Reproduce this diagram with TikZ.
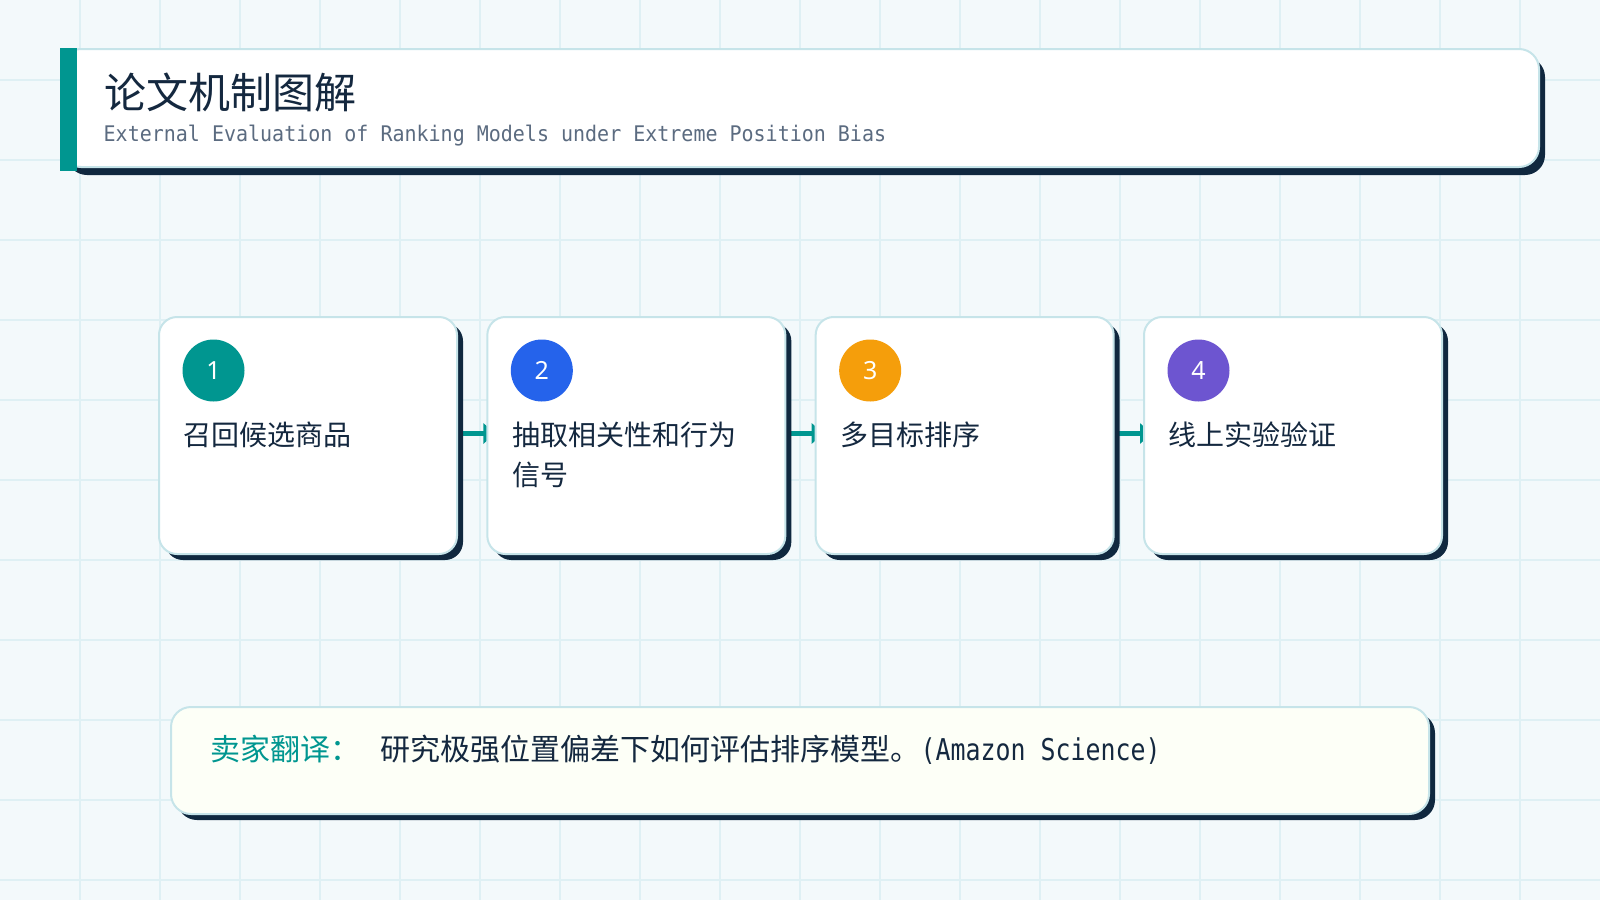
\documentclass[tikz,border=0pt]{standalone}
\usepackage{fontspec}
\usetikzlibrary{arrows.meta,shadows}
\newfontfamily\cjk{Noto Sans CJK SC}
\newfontfamily\monosub[FakeStretch=0.93]{DejaVu Sans Mono}
\newfontfamily\monobot[FakeStretch=0.83]{DejaVu Sans Mono}
\newfontfamily\numfont{Noto Sans}
\definecolor{bgc}{HTML}{F3F9FB}
\definecolor{gridc}{HTML}{DFF0F4}
\definecolor{borderc}{HTML}{C6E4E9}
\definecolor{shadowc}{HTML}{10283F}
\definecolor{tealc}{HTML}{009690}
\definecolor{bluec}{HTML}{2563EB}
\definecolor{orangec}{HTML}{F59E0B}
\definecolor{purplec}{HTML}{6D55D0}
\definecolor{navy}{HTML}{14283F}
\definecolor{subc}{HTML}{5B6B80}
\definecolor{creamc}{HTML}{FDFFF7}
\pgfdeclarelayer{background}
\pgfdeclarelayer{connlayer}
\pgfsetlayers{background,connlayer,main}
\tikzset{
  shadowed/.style={drop shadow={opacity=1,fill=shadowc,shadow xshift=6pt,shadow yshift=-6pt}},
  card/.style={rectangle,rounded corners=18pt,minimum width=298pt,minimum height=237pt,
    draw=borderc,line width=2pt,fill=white,inner sep=0pt,shadowed},
  numc/.style={circle,minimum size=62pt,inner sep=0pt,text=white,
    font=\numfont\fontsize{25}{25}\selectfont},
  cardtext/.style={anchor=base west,inner sep=0pt,text=navy,
    font=\cjk\fontsize{28}{40}\selectfont},
  conn/.style={draw=tealc,line width=4.5pt,-{Triangle[length=12pt,width=20pt]}},
}
\begin{document}
\begin{tikzpicture}[x=1pt,y=-1pt]
\useasboundingbox (0,0) rectangle (1600,900);
\begin{pgfonlayer}{background}
\fill[bgc] (0,0) rectangle (1600,900);
\foreach \i in {80,160,...,1560} \draw[gridc,line width=1.2pt] (\i,0) -- (\i,900);
\foreach \j in {80,160,...,880} \draw[gridc,line width=1.2pt] (0,\j) -- (1600,\j);
\end{pgfonlayer}

% header
\node[rectangle,rounded corners=20pt,minimum width=1478pt,minimum height=118pt,
  draw=borderc,line width=2pt,fill=white,inner sep=0pt,
  drop shadow={opacity=1,fill=shadowc,shadow xshift=6pt,shadow yshift=-8pt},
  anchor=north west] (hdr) at (60,48) {};
\node[rectangle,fill=tealc,minimum width=17pt,minimum height=123pt,inner sep=0pt,
  anchor=north west] (bar) at (60,48) {};
\node[anchor=base west,inner sep=0pt,text=navy,font=\cjk\fontsize{42}{42}\selectfont]
  (title) at (104,108.5) {论文机制图解};
\node[anchor=base west,inner sep=0pt,text=subc,font=\monosub\fontsize{21.5}{21.5}\selectfont]
  (sub) at (103.5,141.5) {External Evaluation of Ranking Models under Extreme Position Bias};

% cards
\foreach \i/\col/\txt in {1/tealc/{召回候选商品},2/bluec/{抽取相关性和行为\\信号},3/orangec/{多目标排序},4/purplec/{线上实验验证}}{
  \pgfmathsetmacro{\xl}{158+328.33*(\i-1)}
  \node[card,anchor=north west] (c\i) at (\xl,316) {};
  \node[numc,fill=\col] (n\i) at (\xl+55.5,370.5) {\i};
  \node[cardtext] (t\i) at (\xl+25.5,445.6) {\parbox[t]{260pt}{\raggedright\txt}};
}

\begin{pgfonlayer}{connlayer}
\foreach \a/\b in {1/2,2/3,3/4}
  \draw[conn] ([yshift=2pt]c\a.east) -- ([xshift=9pt,yshift=2pt]c\b.west);
\end{pgfonlayer}

% note
\node[rectangle,rounded corners=20pt,minimum width=1258pt,minimum height=107pt,
  draw=borderc,line width=2pt,fill=creamc,inner sep=0pt,shadowed,
  anchor=north west] (note) at (170,706) {};
\node[anchor=base west,inner sep=0pt,text=tealc,font=\cjk\fontsize{30}{30}\selectfont]
  (lab) at (210.5,760.6) {卖家翻译：};
\node[anchor=base west,inner sep=0pt,text=navy,font=\fontsize{30}{30}\selectfont]
  (body) at (380.5,760.6) {{\cjk 研究极强位置偏差下如何评估排序模型。}{\monobot(Amazon Science)}};
\end{tikzpicture}
\end{document}
